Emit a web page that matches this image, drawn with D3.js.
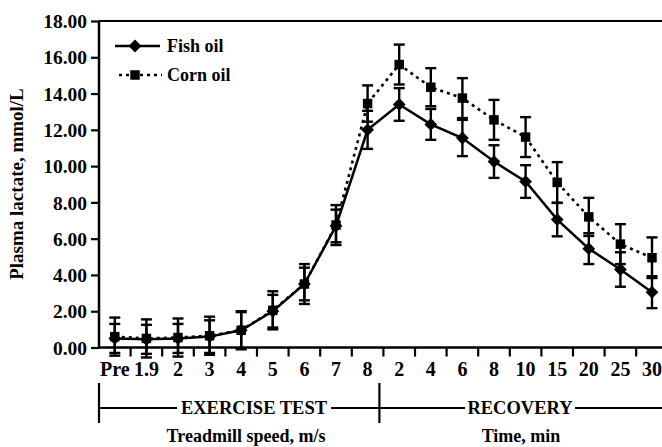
<!DOCTYPE html>
<html>
<head>
<meta charset="utf-8">
<script src="https://cdn.jsdelivr.net/npm/d3@7"></script>
<style>
  html, body { margin: 0; padding: 0; background: #fff; }
  svg { display: block; }
  text { font-family: "Liberation Serif", "Times New Roman", serif; font-weight: bold; fill: #000; }
</style>
</head>
<body>
<svg id="chart" width="662" height="447"></svg>
<script>
// ---- data ----
const categories = ["Pre","1.9","2","3","4","5","6","7","8","2","4","6","8","10","15","20","25","30"];
const fishOil    = [0.5, 0.45, 0.5, 0.6, 0.95, 2.0, 3.5, 6.7, 12.0, 13.4, 12.3, 11.55, 10.25, 9.15, 7.05, 5.45, 4.3, 3.05];
const fishErr    = [0.8, 0.8, 0.8, 0.9, 1.0, 0.9, 0.9, 0.9, 1.05, 0.9, 0.85, 1.0, 0.9, 0.9, 0.92, 0.85, 0.95, 0.88];
const cornOil    = [0.6, 0.5, 0.55, 0.65, 0.95, 2.05, 3.5, 6.75, 13.45, 15.6, 14.35, 13.75, 12.55, 11.6, 9.1, 7.2, 5.7, 4.95];
const cornErr    = [1.05, 1.05, 1.05, 1.05, 1.05, 1.05, 1.1, 1.1, 1.0, 1.1, 1.05, 1.1, 1.1, 1.1, 1.12, 1.05, 1.1, 1.12];
const yTicks     = [0, 2, 4, 6, 8, 10, 12, 14, 16, 18];
const seriesNames = ["Fish oil", "Corn oil"];
const phaseLabels = ["EXERCISE TEST", "RECOVERY"];
const phaseSizes  = [9, 9];
const phaseTitles = ["Treadmill speed, m/s", "Time, min"];
const yTitle = "Plasma lactate, mmol/L";

(function () {
// ---- layout ----
const svg = d3.select("#chart");
const mLeft = 99, mTop = 21, mBottom = 347.5, bandW = 31.6;
const mRight = mLeft + categories.length * bandW;

const x = d3.scaleBand().domain(d3.range(categories.length)).range([mLeft, mRight]).padding(0);
const y = d3.scaleLinear().domain([0, 18]).range([mBottom, mTop]);
const cx = i => x(i) + x.bandwidth() / 2;

// frame top border
svg.append("line").attr("x1", mLeft).attr("x2", 662).attr("y1", mTop).attr("y2", mTop)
  .attr("stroke", "#000").attr("stroke-width", 2.2);

// y axis
const yAxis = svg.append("g").attr("transform", `translate(${mLeft},0)`)
  .call(d3.axisLeft(y).tickValues(yTicks).tickFormat(d3.format(".2f")).tickSize(8).tickPadding(4));
yAxis.select(".domain").attr("stroke-width", 2.5).attr("d", `M0,${mTop}V${mBottom + 1}`);
yAxis.selectAll(".tick line").attr("stroke-width", 2.2);
yAxis.selectAll(".tick text").style("font-size", "19.5px").attr("dy", "0.34em");

// x axis
const xAxis = svg.append("g").attr("transform", `translate(0,${mBottom})`)
  .call(d3.axisBottom(x).tickFormat(i => categories[i]).tickSize(0).tickPadding(14));
xAxis.select(".domain").attr("stroke-width", 2.5).attr("d", `M${mLeft},0H662`);
xAxis.selectAll(".tick text").style("font-size", "20px").attr("dy", "0.71em");
// boundary ticks between categories
svg.append("g").selectAll("line").data(d3.range(1, categories.length)).join("line")
  .attr("x1", i => x(i)).attr("x2", i => x(i))
  .attr("y1", mBottom).attr("y2", mBottom + 9)
  .attr("stroke", "#000").attr("stroke-width", 2.2);

// phase separators
const sepY = 408;
const bounds = [x(0), x(phaseSizes[0]) - 4];
bounds.forEach(bx => {
  svg.append("line").attr("x1", bx).attr("x2", bx).attr("y1", 383).attr("y2", 423)
    .attr("stroke", "#000").attr("stroke-width", 2.2);
});
const phaseCenters = [254, 520];
const phaseHalfW = [77, 55];
svg.append("line").attr("x1", bounds[0]).attr("x2", phaseCenters[0] - phaseHalfW[0])
  .attr("y1", sepY).attr("y2", sepY).attr("stroke", "#000").attr("stroke-width", 2);
svg.append("line").attr("x1", phaseCenters[0] + phaseHalfW[0]).attr("x2", phaseCenters[1] - phaseHalfW[1])
  .attr("y1", sepY).attr("y2", sepY).attr("stroke", "#000").attr("stroke-width", 2);
svg.append("line").attr("x1", phaseCenters[1] + phaseHalfW[1]).attr("x2", 662)
  .attr("y1", sepY).attr("y2", sepY).attr("stroke", "#000").attr("stroke-width", 2);
phaseLabels.forEach((t, k) => {
  svg.append("text").attr("x", phaseCenters[k]).attr("y", 414).attr("text-anchor", "middle")
    .style("font-size", "18.5px").text(t);
});
const titleCenters = [246, 521];
phaseTitles.forEach((t, k) => {
  svg.append("text").attr("x", titleCenters[k]).attr("y", 442).attr("text-anchor", "middle")
    .style("font-size", "18px").text(t);
});

// y title
svg.append("text").attr("transform", "translate(23,184) rotate(-90)")
  .attr("text-anchor", "middle").style("font-size", "19px").text(yTitle);

// lines
const lineGen = d3.line().x((d, i) => cx(i)).y(d => y(d));
svg.append("path").datum(cornOil).attr("d", lineGen)
  .attr("fill", "none").attr("stroke", "#000").attr("stroke-width", 2.6).attr("stroke-dasharray", "3,4");
svg.append("path").datum(fishOil).attr("d", lineGen)
  .attr("fill", "none").attr("stroke", "#000").attr("stroke-width", 2.5);

// error bars
function errorBars(vals, errs) {
  const g = svg.append("g").attr("stroke", "#000").attr("stroke-width", 2.4);
  vals.forEach((v, i) => {
    const xi = cx(i), lo = y(v - errs[i]), hi = y(v + errs[i]);
    g.append("line").attr("x1", xi).attr("x2", xi).attr("y1", lo).attr("y2", hi);
    g.append("line").attr("x1", xi - 5.5).attr("x2", xi + 5.5).attr("y1", lo).attr("y2", lo);
    g.append("line").attr("x1", xi - 5.5).attr("x2", xi + 5.5).attr("y1", hi).attr("y2", hi);
  });
}
errorBars(cornOil, cornErr);
errorBars(fishOil, fishErr);

// markers
const square = d3.symbol().type(d3.symbolSquare).size(90);
const diamond = d3.symbol().type(d3.symbolSquare).size(82);
svg.append("g").selectAll("path").data(cornOil).join("path")
  .attr("d", square).attr("transform", (d, i) => `translate(${cx(i)},${y(d)})`).attr("fill", "#000");
svg.append("g").selectAll("path").data(fishOil).join("path")
  .attr("d", diamond)
  .attr("transform", (d, i) => `translate(${cx(i)},${y(d)}) rotate(45)`).attr("fill", "#000");

// legend
const lg = svg.append("g");
const legY = [46, 75];
lg.append("line").attr("x1", 115).attr("x2", 160).attr("y1", legY[0]).attr("y2", legY[0])
  .attr("stroke", "#000").attr("stroke-width", 2.5);
lg.append("path").attr("d", diamond)
  .attr("transform", `translate(135,${legY[0]}) rotate(45)`).attr("fill", "#000");
lg.append("line").attr("x1", 119).attr("x2", 162).attr("y1", legY[1]).attr("y2", legY[1])
  .attr("stroke", "#000").attr("stroke-width", 2.6).attr("stroke-dasharray", "3,4");
lg.append("path").attr("d", square).attr("transform", `translate(135,${legY[1]})`).attr("fill", "#000");
seriesNames.forEach((n, k) => {
  lg.append("text").attr("x", 167).attr("y", legY[k] + 6).style("font-size", "18px").text(n);
});
})();
</script>
</body>
</html>
